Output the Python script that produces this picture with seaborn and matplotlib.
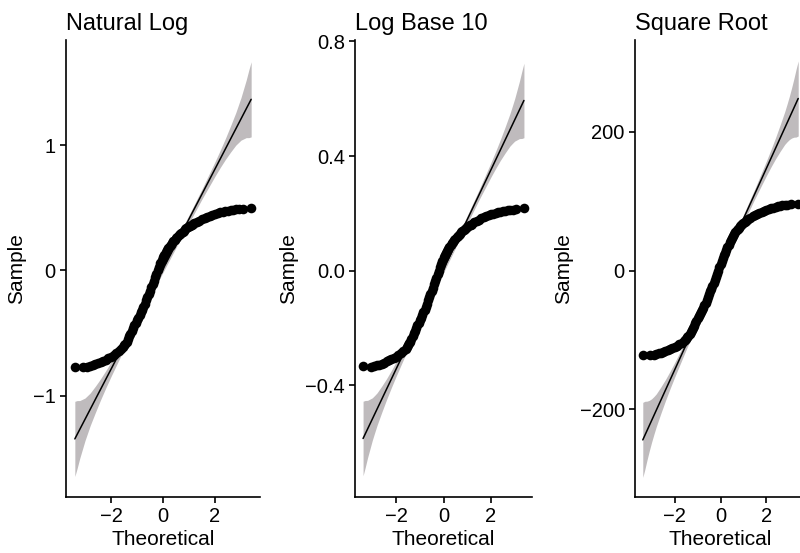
import numpy as np
import pandas as pd
import matplotlib
matplotlib.use('Agg')
import matplotlib.pyplot as plt
import seaborn as sns

# Theoretical normal quantiles (shared by all panels)
theoretical = [-3.38, -3.07, -2.91, -2.80, -2.70, -2.60, -2.50, -2.40, -2.30, -2.20,
               -2.10, -2.00, -1.90, -1.80, -1.70,
               -1.60, -1.55, -1.50, -1.45, -1.40, -1.35, -1.30, -1.25, -1.20, -1.15,
               -1.10, -1.05, -1.00, -0.95, -0.90, -0.85, -0.80, -0.75, -0.70, -0.65,
               -0.60, -0.55, -0.50, -0.45, -0.40, -0.35, -0.30, -0.25, -0.20, -0.15,
               -0.10, -0.05, 0.00, 0.05, 0.10, 0.15, 0.20, 0.25, 0.30, 0.35,
               0.40, 0.45, 0.50, 0.55, 0.60, 0.65, 0.70, 0.75, 0.80, 0.85,
               0.90, 0.95, 1.00, 1.05, 1.10, 1.15, 1.20,
               1.30, 1.40, 1.50, 1.60, 1.70, 1.80, 1.90, 2.00, 2.10, 2.20,
               2.30, 2.40, 2.50, 2.60, 2.70, 2.80, 2.91, 3.07, 3.39]

# Sample quantiles for each transform
sample_ln = [-0.770, -0.772, -0.768, -0.762, -0.756, -0.748, -0.739, -0.730, -0.721, -0.712,
             -0.702, -0.692, -0.680, -0.664, -0.646,
             -0.626, -0.614, -0.600, -0.586, -0.570, -0.550, -0.528, -0.505, -0.482, -0.461,
             -0.440, -0.419, -0.398, -0.378, -0.358, -0.336, -0.314, -0.290, -0.265, -0.240,
             -0.214, -0.188, -0.162, -0.135, -0.108, -0.081, -0.055, -0.027, 0.000, 0.028,
             0.055, 0.081, 0.105, 0.126, 0.145, 0.162, 0.178, 0.192, 0.206, 0.219,
             0.232, 0.245, 0.258, 0.269, 0.279, 0.289, 0.298, 0.308, 0.318, 0.327,
             0.336, 0.344, 0.351, 0.358, 0.364, 0.370, 0.375,
             0.386, 0.396, 0.407, 0.418, 0.428, 0.437, 0.445, 0.452, 0.458, 0.464,
             0.469, 0.474, 0.478, 0.482, 0.485, 0.488, 0.491, 0.494, 0.500]
sample_log10 = [-0.334, -0.335, -0.334, -0.331, -0.328, -0.325, -0.321, -0.317, -0.313, -0.309,
                -0.305, -0.301, -0.295, -0.288, -0.281,
                -0.272, -0.267, -0.261, -0.254, -0.248, -0.239, -0.229, -0.219, -0.209, -0.200,
                -0.191, -0.182, -0.173, -0.164, -0.156, -0.146, -0.136, -0.126, -0.115, -0.104,
                -0.093, -0.082, -0.070, -0.059, -0.047, -0.035, -0.024, -0.012, 0.000, 0.012,
                0.024, 0.035, 0.046, 0.055, 0.063, 0.070, 0.077, 0.083, 0.089, 0.095,
                0.101, 0.106, 0.112, 0.117, 0.121, 0.126, 0.129, 0.134, 0.138, 0.142,
                0.146, 0.149, 0.152, 0.155, 0.158, 0.161, 0.163,
                0.168, 0.172, 0.177, 0.182, 0.186, 0.190, 0.193, 0.196, 0.199, 0.202,
                0.204, 0.206, 0.208, 0.209, 0.211, 0.212, 0.213, 0.215, 0.217]
sample_sqrt = [-122, -122, -121, -120, -119, -118, -117, -116, -114.5, -113,
               -111.5, -110, -108, -106, -104,
               -101, -99.5, -98, -96, -94, -91.5, -89, -86, -83, -79.5,
               -76, -72.5, -69, -66, -63, -60, -57, -53.5, -50, -46,
               -42, -38, -34, -30, -26, -22, -18, -13.5, -9, -4.5,
               0, 4.5, 9, 13.5, 18, 22, 26, 30, 34, 37.5,
               41, 44, 47, 50, 53, 55.5, 58, 60, 62, 64,
               66, 67.5, 69, 70.3, 71.5, 72.8, 74,
               76, 78, 80, 82, 83.5, 85, 86.3, 87.5, 88.5, 89.5,
               90.5, 91.5, 92.3, 93, 93.8, 94.5, 95, 95.5, 96]

# Reference line (intercept, slope) and its x extent
line_ln = (0.01, 0.40)
line_log10 = (0.004, 0.174)
line_sqrt = (2.0, 72.5)
line_x = [-3.39, 3.39]

# Half width of the confidence band, at |x| positions
band_pos = [0.0, 1.0, 1.5, 2.0, 2.2, 2.4, 2.6, 2.8, 2.9, 3.0, 3.1, 3.2, 3.3, 3.39]
band_ln = [0.026, 0.032, 0.040, 0.058, 0.069, 0.084, 0.105, 0.13, 0.15, 0.17, 0.20, 0.23, 0.27, 0.30]
band_log10 = [0.0113, 0.0139, 0.0174, 0.0252, 0.030, 0.0365, 0.0456, 0.0565, 0.065, 0.074,
              0.087, 0.100, 0.117, 0.130]
band_sqrt = [4.7, 5.8, 7.2, 10.5, 12.5, 15.2, 19, 23.5, 27, 31, 36, 42, 49, 54]

titles = ['Natural Log', 'Log Base 10', 'Square Root']
y_limits = [(-1.81, 1.84), (-0.79, 0.805), (-326, 332)]
y_ticks = [[-1, 0, 1], [-0.4, 0.0, 0.4, 0.8], [-200, 0, 200]]
y_ticklabels = [['\u22121', '0', '1'], ['\u22120.4', '0.0', '0.4', '0.8'],
                ['\u2212200', '0', '200']]
x_ticks = [-2, 0, 2]
x_ticklabels = ['\u22122', '0', '2']

sns.set_style('ticks')
plt.rcParams['font.family'] = ['Liberation Sans', 'DejaVu Sans']
plt.rcParams['text.color'] = 'black'
plt.rcParams['axes.labelcolor'] = 'black'


def qq_panel(ax, sample, line, band, title, ylim, yticks, yticklabels):
    df = pd.DataFrame({'Theoretical': theoretical, 'Sample': sample})

    # confidence band around the reference line
    bx = np.concatenate([-np.array(band_pos[::-1]), np.array(band_pos[1:])])
    bw = np.concatenate([np.array(band[::-1]), np.array(band[1:])])
    centre = line[0] + line[1] * bx
    ax.fill_between(bx, centre - bw, centre + bw, color='#bfbbbd', lw=0, zorder=1)

    # reference line
    ly = [line[0] + line[1] * v for v in line_x]
    sns.lineplot(x=line_x, y=ly, color='black', lw=1.1, ax=ax, zorder=2)

    # sample points
    sns.scatterplot(data=df, x='Theoretical', y='Sample', color='black', s=48,
                    linewidth=0, ax=ax, zorder=3)

    ax.set_xlim(-3.73, 3.73)
    ax.set_ylim(*ylim)
    ax.set_xticks(x_ticks)
    ax.set_xticklabels(x_ticklabels)
    ax.set_yticks(yticks)
    ax.set_yticklabels(yticklabels)
    ax.set_title(title, loc='left', fontsize=17, pad=7, color='black')
    ax.set_xlabel('Theoretical', fontsize=15, labelpad=3)
    ax.set_ylabel('Sample', fontsize=15, labelpad=5)
    ax.tick_params(labelsize=14.5, length=4.3, width=1.2, colors='black', pad=3)
    sns.despine(ax=ax)
    for s in ['left', 'bottom']:
        ax.spines[s].set_linewidth(1.2)
        ax.spines[s].set_color('black')


fig = plt.figure(figsize=(8, 5.53), dpi=100)
# panel positions: the third panel runs past the right edge, as in the reference
positions = [[0.0825, 0.1013, 0.2425, 0.8264],
             [0.44375, 0.1013, 0.22125, 0.8264],
             [0.79375, 0.1013, 0.21375, 0.8264]]
samples = [sample_ln, sample_log10, sample_sqrt]
lines = [line_ln, line_log10, line_sqrt]
bands = [band_ln, band_log10, band_sqrt]

for i in range(3):
    ax = fig.add_axes(positions[i])
    qq_panel(ax, samples[i], lines[i], bands[i], titles[i], y_limits[i],
             y_ticks[i], y_ticklabels[i])

fig.savefig('out.png', dpi=100)
